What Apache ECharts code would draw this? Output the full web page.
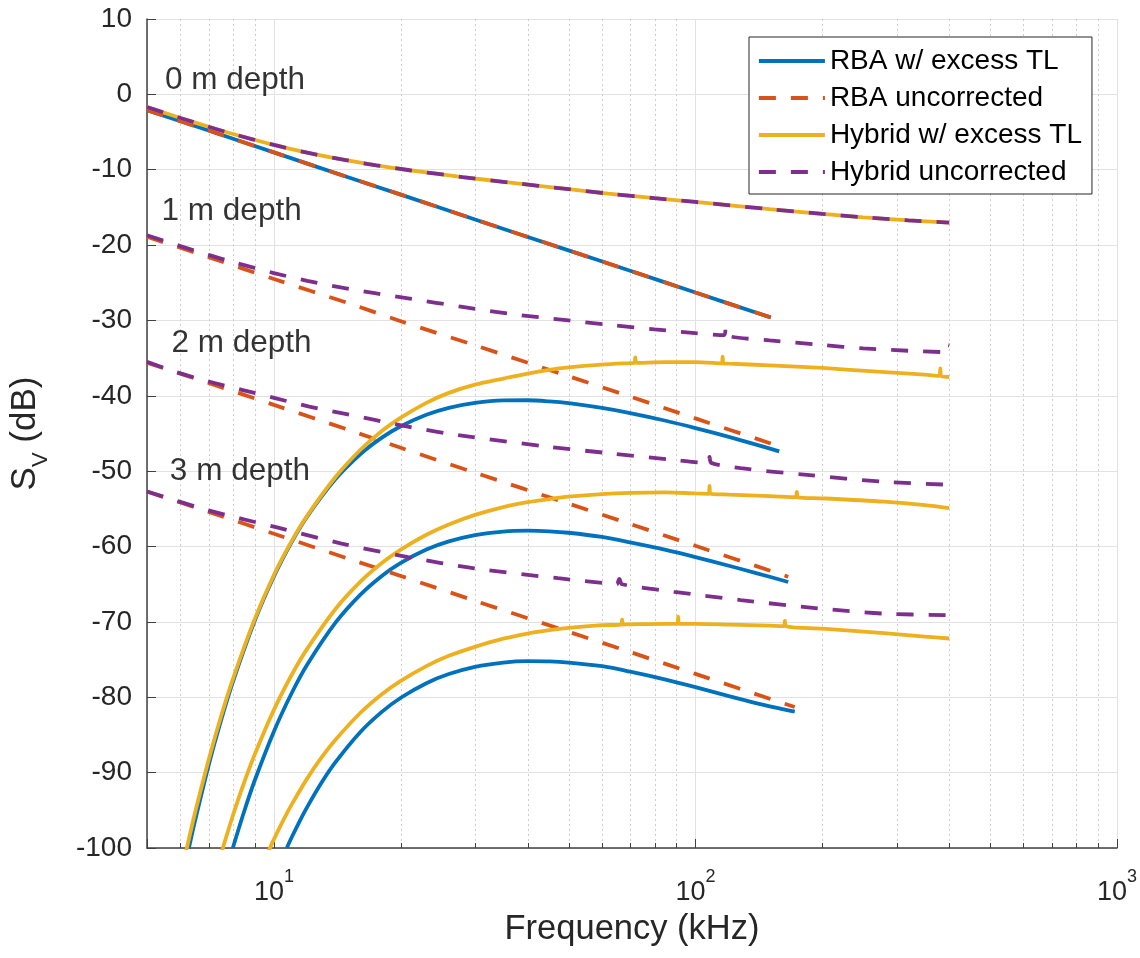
<!DOCTYPE html>
<html>
<head>
<meta charset="utf-8">
<script src="https://cdn.jsdelivr.net/npm/echarts@6/dist/echarts.min.js"></script>
<style>
  html, body { margin: 0; padding: 0; background: #ffffff; }
  #chart { width: 1140px; height: 958px; }
</style>
</head>
<body>
<div id="chart"></div>
<script>
// Volume backscattering strength S_V (dB) versus frequency (kHz) at four depths.
// Each array holds [frequency kHz, S_V dB] pairs.

const seriesNames = ['RBA w/ excess TL', 'RBA uncorrected', 'Hybrid w/ excess TL', 'Hybrid uncorrected'];
const seriesColors = ['#0072BD', '#D95319', '#EDB120', '#7E2F8E'];

// RBA model with excess transmission loss
const rbaTL_0m = [[5,-2.1],[7,-4.8],[10,-7.7],[15,-11.0],[20,-13.3],[30,-16.6],[50,-20.7],[70,-23.4],[100,-26.3],[151,-29.6]];
const rbaTL_1m = [[6.28,-100.1],[6.5,-96.4],[7,-89.05],[7.5,-82.99],[8,-77.89],[9,-69.9],[10,-63.98],[11,-59.49],[12,-56.0],[14,-51.05],[16,-47.79],[18,-45.58],[20,-44.04],[23,-42.52],[26,-41.6],[30,-40.94],[35,-40.61],[40,-40.59],[45,-40.74],[50,-40.98],[60,-41.61],[70,-42.29],[85,-43.31],[100,-44.28],[120,-45.45],[140,-46.5],[158,-47.37]];
const rbaTL_2m = [[7.99,-100.0],[8.5,-95.16],[9,-91.08],[10,-84.53],[11,-79.53],[12,-75.65],[14,-70.1],[16,-66.44],[18,-63.93],[20,-62.17],[23,-60.4],[26,-59.32],[30,-58.48],[35,-58.01],[40,-57.9],[45,-57.98],[50,-58.17],[60,-58.73],[70,-59.45],[85,-60.45],[100,-61.4],[120,-62.55],[140,-63.55],[166,-64.7]];
const rbaTL_3m = [[10.73,-100.0],[11,-98.68],[11.5,-96.49],[12,-94.54],[13,-91.25],[14,-88.61],[16,-84.67],[18,-81.97],[20,-80.06],[23,-78.13],[26,-76.92],[30,-75.97],[35,-75.4],[40,-75.21],[45,-75.24],[50,-75.39],[60,-75.88],[70,-76.6],[85,-77.65],[100,-78.65],[120,-79.85],[140,-80.8],[172,-81.9]];

// RBA model without correction
const rbaRaw_0m = [[5,-2.1],[7,-4.8],[10,-7.7],[15,-11.0],[20,-13.3],[30,-16.6],[50,-20.7],[70,-23.4],[100,-26.3],[151,-29.6]];
const rbaRaw_1m = [[5,-18.9],[7,-21.6],[10,-24.5],[15,-27.7],[20,-30.1],[30,-33.3],[50,-37.4],[70,-40.1],[100,-43.0],[158,-46.7]];
const rbaRaw_2m = [[5,-35.6],[7,-38.3],[10,-41.2],[15,-44.5],[20,-46.9],[30,-50.2],[50,-54.3],[70,-57.0],[100,-59.9],[166,-64.0]];
const rbaRaw_3m = [[5,-52.7],[7,-55.4],[10,-58.3],[15,-61.6],[20,-63.9],[30,-67.2],[50,-71.3],[70,-74.0],[100,-76.9],[172,-81.3]];

// Hybrid model with excess transmission loss
const hybTL_0m = [[5,-1.7],[6,-3.13],[7,-4.3],[8,-5.26],[10,-6.71],[12,-7.74],[14.5,-8.64],[17.5,-9.42],[21,-10.07],[28,-10.97],[36,-11.68],[50,-12.58],[62,-13.16],[80,-13.78],[100,-14.28],[150,-15.23],[200,-15.86],[250,-16.31],[320,-16.72],[400,-17.02]];
const hybTL_1m = [[6.12,-101.67],[6.5,-95.33],[7,-88.33],[7.5,-82.46],[8,-77.52],[9,-69.67],[10,-63.77],[11,-59.34],[12,-55.89],[14,-50.78],[16,-47.22],[18,-44.69],[20,-42.89],[23,-40.93],[26,-39.61],[30,-38.52],[35,-37.71],[40,-37.04],[45,-36.56],[50,-36.24],[60,-35.87],[70,-35.66],[71.6,-35.64],[72,-34.9],[72.4,-35.64],[85,-35.53],[100,-35.54],[115.4,-35.7],[116,-34.8],[116.6,-35.7],[120,-35.74],[150,-35.95],[200,-36.3],[270,-36.8],[350,-37.2],[379,-37.35],[381,-36.35],[383,-37.37],[400,-37.5]];
const hybTL_2m = [[7.44,-101.36],[8,-95.62],[8.5,-91.31],[9,-87.62],[10,-81.67],[11,-77.11],[12,-73.55],[14,-68.28],[16,-64.72],[18,-62.22],[20,-60.41],[23,-58.44],[26,-57.07],[30,-55.8],[35,-54.76],[40,-54.11],[45,-53.7],[50,-53.38],[60,-53.04],[70,-52.88],[85,-52.81],[100,-52.95],[107.5,-53.0],[108,-51.95],[108.5,-53.0],[120,-53.1],[150,-53.3],[173,-53.45],[174,-52.75],[175,-53.47],[200,-53.6],[280,-54.05],[350,-54.5],[400,-54.9]];
const hybTL_3m = [[9.67,-100.65],[10,-98.86],[10.5,-96.44],[11,-94.31],[12,-90.76],[13,-87.92],[14,-85.64],[16,-82.12],[18,-79.62],[20,-77.82],[23,-75.86],[26,-74.5],[30,-73.31],[35,-72.23],[40,-71.54],[45,-71.09],[50,-70.79],[60,-70.44],[66.6,-70.35],[67,-69.7],[67.4,-70.35],[70,-70.32],[85,-70.25],[90.6,-70.25],[91,-69.3],[91.4,-70.25],[100,-70.25],[120,-70.35],[150,-70.5],[162,-70.55],[163,-69.85],[164,-70.57],[200,-70.9],[280,-71.5],[350,-71.95],[400,-72.2]];

// Hybrid model without correction
const hybRaw_0m = [[5,-1.7],[6,-3.13],[7,-4.3],[8,-5.26],[10,-6.71],[12,-7.74],[14.5,-8.64],[17.5,-9.42],[21,-10.07],[28,-10.97],[36,-11.68],[50,-12.58],[62,-13.16],[80,-13.78],[100,-14.28],[150,-15.23],[200,-15.86],[250,-16.31],[320,-16.72],[400,-17.02]];
const hybRaw_1m = [[5,-18.7],[6,-20.13],[7,-21.3],[8,-22.26],[10,-23.71],[12,-24.74],[14.5,-25.64],[17.5,-26.42],[21,-27.1],[28,-28.2],[36,-29.1],[50,-30.0],[62,-30.56],[80,-31.18],[100,-31.68],[117,-31.95],[118,-30.95],[119,-32.0],[150,-32.63],[200,-33.26],[250,-33.71],[320,-34.02],[390,-34.2],[392,-33.2],[400,-33.3]];
const hybRaw_2m = [[5,-35.5],[5.83,-36.8],[7,-38.1],[8.39,-39.2],[10.06,-40.3],[12.07,-41.4],[14.47,-42.3],[17.35,-43.2],[20.8,-44.1],[27.35,-45.2],[44.7,-46.75],[62,-47.6],[89,-48.5],[107,-48.9],[108,-48.1],[109,-48.9],[128,-49.6],[184,-50.5],[280,-51.4],[400,-51.8]];
const hybRaw_3m = [[5,-52.7],[7,-55.2],[10.06,-57.4],[14.47,-59.6],[20.8,-61.4],[29.9,-62.9],[47.2,-64.2],[62,-64.9],[65,-65.0],[66,-64.3],[67,-65.0],[89,-66.0],[128,-67.1],[195,-68.2],[280,-68.9],[400,-69.1]];

// Minor grid frequencies on the log axis (kHz)
const minorFreqs = [6, 7, 8, 9, 20, 30, 40, 50, 60, 70, 80, 90, 200, 300, 400, 500, 600, 700, 800, 900];

// Depth annotations: text, frequency anchor (kHz), level anchor (dB)
const depthLabels = ['0 m depth', '1 m depth', '2 m depth', '3 m depth'];
const depthLabelFreq = [5.5, 5.4, 5.7, 5.65];
const depthLabelLevel = [1.8, -15.5, -33.0, -50.0];

const FONT = '"Liberation Sans", Arial, Helvetica, sans-serif';
const AXIS_COLOR = '#404040';
const TEXT_COLOR = '#262626';

const groups = [
  [rbaTL_0m, rbaTL_1m, rbaTL_2m, rbaTL_3m],
  [rbaRaw_0m, rbaRaw_1m, rbaRaw_2m, rbaRaw_3m],
  [hybTL_0m, hybTL_1m, hybTL_2m, hybTL_3m],
  [hybRaw_0m, hybRaw_1m, hybRaw_2m, hybRaw_3m]
];
const dashed = [false, true, false, true];

const series = [];

// dotted minor grid lines plus short inward minor ticks on the frequency axis
series.push({
  type: 'custom',
  name: 'minor-grid',
  silent: true,
  z: 1,
  data: minorFreqs.map(f => [f, -100]),
  renderItem: function (params, api) {
    const x = Math.round(api.coord([api.value(0), -100])[0]) + 0.5;
    const top = params.coordSys.y;
    const bottom = params.coordSys.y + params.coordSys.height;
    return {
      type: 'group',
      children: [
        { type: 'line', shape: { x1: x, y1: top, x2: x, y2: bottom },
          style: { stroke: '#cdcdcd', lineWidth: 1, lineDash: [2, 3] } },
        { type: 'line', shape: { x1: x, y1: bottom, x2: x, y2: bottom - 5 },
          style: { stroke: AXIS_COLOR, lineWidth: 1 } }
      ]
    };
  }
});

groups.forEach((depthSets, gi) => {
  depthSets.forEach(data => {
    series.push({
      type: 'line',
      name: seriesNames[gi],
      data: data,
      symbol: 'none',
      smooth: 0.3,
      z: 3 + gi,
      lineStyle: {
        color: seriesColors[gi],
        width: 3.8,
        type: dashed[gi] ? [17, 15] : 'solid',
        cap: 'butt'
      },
      itemStyle: { color: seriesColors[gi] },
      emphasis: { disabled: true }
    });
  });
});

series.push({
  type: 'scatter',
  name: 'depth-labels',
  silent: true,
  z: 10,
  symbolSize: 1,
  itemStyle: { color: 'rgba(0,0,0,0)' },
  data: depthLabels.map((t, i) => ({ name: t, value: [depthLabelFreq[i], depthLabelLevel[i]] })),
  label: {
    show: true,
    position: 'right',
    distance: 0,
    formatter: p => p.name,
    fontFamily: FONT,
    fontSize: 31.5,
    color: '#000000'
  }
});

const option = {
  animation: false,
  backgroundColor: '#ffffff',
  grid: { left: 145, right: 23, top: 19, bottom: 110, containLabel: false },
  legend: {
    data: seriesNames,
    orient: 'vertical',
    left: 749,
    top: 37,
    padding: [10, 10, 8, 8],
    itemWidth: 66,
    itemHeight: 28,
    itemGap: 9,
    backgroundColor: '#ffffff',
    borderColor: '#262626',
    borderWidth: 1,
    selectedMode: false,
    itemStyle: { opacity: 0, borderWidth: 0 },
    lineStyle: { width: 3.8 },
    textStyle: { fontFamily: FONT, fontSize: 28, color: '#000000' }
  },
  xAxis: {
    type: 'log',
    logBase: 10,
    min: 5,
    max: 1000,
    name: 'Frequency (kHz)',
    nameLocation: 'middle',
    nameGap: 64,
    nameTextStyle: { fontFamily: FONT, fontSize: 34.5, color: TEXT_COLOR },
    axisLine: { show: true, onZero: false, lineStyle: { color: AXIS_COLOR, width: 1.5 } },
    axisTick: { show: true, inside: true, length: 9, lineStyle: { color: AXIS_COLOR, width: 1 } },
    splitLine: { show: true, lineStyle: { color: '#e2e2e2', width: 1 } },
    axisLabel: {
      margin: 20,
      formatter: function (v) {
        const e = Math.log10(v);
        if (Math.abs(e - Math.round(e)) > 1e-6) return '';
        return '{b|10}{s|' + Math.round(e) + '}';
      },
      rich: {
        b: { fontFamily: FONT, fontSize: 27, color: TEXT_COLOR, lineHeight: 38, verticalAlign: 'bottom' },
        s: { fontFamily: FONT, fontSize: 18, color: TEXT_COLOR, lineHeight: 38, verticalAlign: 'top' }
      }
    }
  },
  yAxis: {
    type: 'value',
    min: -100,
    max: 10,
    interval: 10,
    name: '{m|S}{sub|V}{m| (dB)}',
    nameLocation: 'middle',
    nameGap: 95,
    nameTextStyle: {
      rich: {
        m: { fontFamily: FONT, fontSize: 35, color: TEXT_COLOR, lineHeight: 44, verticalAlign: 'top' },
        sub: { fontFamily: FONT, fontSize: 22, color: TEXT_COLOR, lineHeight: 44, verticalAlign: 'bottom' }
      }
    },
    axisLine: { show: true, onZero: false, lineStyle: { color: AXIS_COLOR, width: 1.5 } },
    axisTick: { show: true, inside: true, length: 9, lineStyle: { color: AXIS_COLOR, width: 1 } },
    splitLine: { show: true, lineStyle: { color: '#e2e2e2', width: 1 } },
    axisLabel: { fontFamily: FONT, fontSize: 28, color: TEXT_COLOR, margin: 15 }
  },
  series: series
};

const chart = echarts.init(document.getElementById('chart'), null, { renderer: 'canvas' });
chart.setOption(option);
</script>
</body>
</html>
